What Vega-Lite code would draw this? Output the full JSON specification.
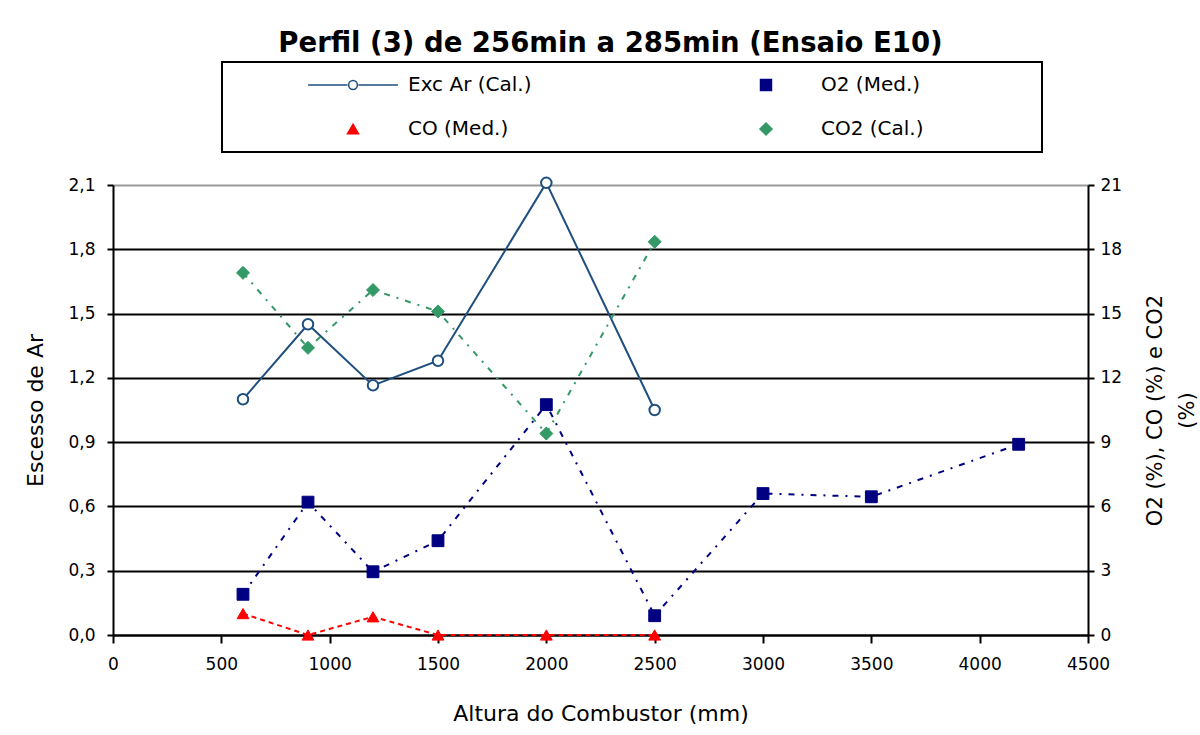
{
  "$schema": "https://vega.github.io/schema/vega-lite/v6.json",
  "width": 975,
  "height": 450,
  "autosize": {"type": "none"},
  "padding": {"left": 113, "top": 185, "right": 112, "bottom": 100},
  "background": "white",
  "title": {
    "text": "Perfil (3) de 256min a 285min (Ensaio E10)",
    "font": "DejaVu Sans",
    "fontSize": 27.5,
    "fontWeight": "bold",
    "color": "black",
    "anchor": "middle",
    "frame": "group",
    "offset": 4,
    "dx": 10
  },
  "config": {
    "view": {"stroke": null},
    "axis": {
      "labelFont": "DejaVu Sans",
      "titleFont": "DejaVu Sans",
      "labelFontSize": 17,
      "titleFontSize": 22,
      "titleFontWeight": "normal",
      "labelColor": "black",
      "titleColor": "black",
      "domainColor": "black",
      "tickColor": "black",
      "domainWidth": 2,
      "tickWidth": 2
    },
    "legend": {
      "labelFont": "DejaVu Sans",
      "labelFontSize": 20,
      "labelColor": "black",
      "strokeWidth": 2
    }
  },
  "datasets": {
    "excar": [
      {"x": 600, "series": "Exc Ar (Cal.)", "v": 1.10},
      {"x": 900, "series": "Exc Ar (Cal.)", "v": 1.45},
      {"x": 1200, "series": "Exc Ar (Cal.)", "v": 1.165},
      {"x": 1500, "series": "Exc Ar (Cal.)", "v": 1.28},
      {"x": 2000, "series": "Exc Ar (Cal.)", "v": 2.11},
      {"x": 2500, "series": "Exc Ar (Cal.)", "v": 1.05}
    ],
    "gases": [
      {"x": 600, "series": "O2 (Med.)", "v": 1.9},
      {"x": 900, "series": "O2 (Med.)", "v": 6.2},
      {"x": 1200, "series": "O2 (Med.)", "v": 2.95},
      {"x": 1500, "series": "O2 (Med.)", "v": 4.4},
      {"x": 2000, "series": "O2 (Med.)", "v": 10.75},
      {"x": 2500, "series": "O2 (Med.)", "v": 0.9},
      {"x": 3000, "series": "O2 (Med.)", "v": 6.6},
      {"x": 3500, "series": "O2 (Med.)", "v": 6.45},
      {"x": 4180, "series": "O2 (Med.)", "v": 8.9},
      {"x": 600, "series": "CO (Med.)", "v": 1.0},
      {"x": 900, "series": "CO (Med.)", "v": 0.0},
      {"x": 1200, "series": "CO (Med.)", "v": 0.85},
      {"x": 1500, "series": "CO (Med.)", "v": 0.0},
      {"x": 2000, "series": "CO (Med.)", "v": 0.0},
      {"x": 2500, "series": "CO (Med.)", "v": 0.0},
      {"x": 600, "series": "CO2 (Cal.)", "v": 16.9},
      {"x": 900, "series": "CO2 (Cal.)", "v": 13.4},
      {"x": 1200, "series": "CO2 (Cal.)", "v": 16.1},
      {"x": 1500, "series": "CO2 (Cal.)", "v": 15.1},
      {"x": 2000, "series": "CO2 (Cal.)", "v": 9.4},
      {"x": 2500, "series": "CO2 (Cal.)", "v": 18.35}
    ]
  },
  "layer": [
    {
      "data": {"name": "excar"},
      "encoding": {
        "x": {
          "field": "x",
          "type": "quantitative",
          "scale": {"domain": [0, 4500], "nice": false},
          "axis": {
            "values": [0, 500, 1000, 1500, 2000, 2500, 3000, 3500, 4000, 4500],
            "format": "d",
            "grid": false,
            "labelFlush": false,
            "title": "Altura do Combustor (mm)",
            "tickSize": 8,
            "labelPadding": 13,
            "titlePadding": 31
          }
        },
        "y": {
          "field": "v",
          "type": "quantitative",
          "scale": {"domain": [0, 2.1], "nice": false},
          "axis": {
            "orient": "left",
            "values": [0, 0.3, 0.6, 0.9, 1.2, 1.5, 1.8, 2.1],
            "labelExpr": "replace(format(datum.value, '.1f'), '.', ',')",
            "grid": true,
            "gridColor": {"condition": {"test": "datum.value > 2.05", "value": "#9a9a9a"}, "value": "black"},
            "gridWidth": 2,
            "title": "Escesso de Ar",
            "tickSize": 6,
            "labelPadding": 12,
            "titlePadding": 20
          }
        }
      },
      "layer": [
        {"mark": {"type": "line", "color": "#1f4f7f", "strokeWidth": 2}},
        {"mark": {"type": "point", "shape": "circle", "filled": true, "fill": "white", "stroke": "#1f4f7f", "strokeWidth": 2, "size": 110, "opacity": 1}}
      ]
    },
    {
      "data": {"name": "gases"},
      "encoding": {
        "x": {"field": "x", "type": "quantitative"},
        "y": {
          "field": "v",
          "type": "quantitative",
          "scale": {"domain": [0, 21], "nice": false},
          "axis": {
            "orient": "right",
            "values": [0, 3, 6, 9, 12, 15, 18, 21],
            "grid": false,
            "title": ["O2 (%), CO (%) e CO2", "(%)"],
            "titleAngle": 270,
            "titleFontSize": 21,
            "titleLineHeight": 32,
            "tickSize": 6,
            "labelPadding": 6,
            "titlePadding": 12
          }
        }
      },
      "layer": [
        {
          "mark": {"type": "line", "strokeWidth": 2},
          "encoding": {
            "color": {
              "field": "series",
              "type": "nominal",
              "scale": {"domain": ["O2 (Med.)", "CO (Med.)", "CO2 (Cal.)"], "range": ["#000080", "#ff0000", "#339966"]},
              "legend": null
            },
            "strokeDash": {
              "field": "series",
              "type": "nominal",
              "scale": {"domain": ["O2 (Med.)", "CO (Med.)", "CO2 (Cal.)"], "range": [[6, 7, 2, 7], [5, 4], [6, 7, 2, 7]]},
              "legend": null
            }
          }
        },
        {
          "mark": {"type": "point", "filled": true, "size": 140, "strokeWidth": 1, "opacity": 1},
          "encoding": {
            "shape": {
              "field": "series",
              "type": "nominal",
              "scale": {
                "domain": ["Exc Ar (Cal.)", "CO (Med.)", "O2 (Med.)", "CO2 (Cal.)"],
                "range": [
                  "M-8.2,0L-1,0M1,0L8.2,0M-0.8,0A0.8,0.8,0,1,0,0.8,0A0.8,0.8,0,1,0,-0.8,0Z",
                  "triangle-up",
                  "M-1,-1H1V1H-1ZM47.3,0",
                  "M0,-1.1L1.1,0L0,1.1L-1.1,0ZM47.3,0"
                ]
              },
              "legend": {
                "title": null,
                "orient": "none",
                "legendX": 109,
                "legendY": -123,
                "columns": 2,
                "padding": 13,
                "strokeColor": "black",
                "fillColor": "white",
                "symbolSize": 120,
                "symbolStrokeWidth": 1.5,
                "symbolOffset": 108,
                "labelOffset": 45,
                "rowPadding": 24,
                "columnPadding": 116
              }
            },
            "stroke": {
              "field": "series",
              "type": "nominal",
              "scale": {
                "domain": ["Exc Ar (Cal.)", "CO (Med.)", "O2 (Med.)", "CO2 (Cal.)"],
                "range": ["#1f4f7f", "#ff0000", "#000080", "#339966"]
              },
              "legend": {
                "title": null,
                "orient": "none",
                "legendX": 109,
                "legendY": -123,
                "columns": 2,
                "padding": 13,
                "strokeColor": "black",
                "fillColor": "white",
                "symbolSize": 120,
                "symbolStrokeWidth": 1.5,
                "symbolOffset": 108,
                "labelOffset": 45,
                "rowPadding": 24,
                "columnPadding": 116
              }
            },
            "fill": {
              "field": "series",
              "type": "nominal",
              "scale": {
                "domain": ["Exc Ar (Cal.)", "CO (Med.)", "O2 (Med.)", "CO2 (Cal.)"],
                "range": ["white", "#ff0000", "#000080", "#339966"]
              },
              "legend": {
                "title": null,
                "orient": "none",
                "legendX": 109,
                "legendY": -123,
                "columns": 2,
                "padding": 13,
                "strokeColor": "black",
                "fillColor": "white",
                "symbolSize": 120,
                "symbolStrokeWidth": 1.5,
                "symbolOffset": 108,
                "labelOffset": 45,
                "rowPadding": 24,
                "columnPadding": 116
              }
            }
          }
        }
      ]
    }
  ],
  "resolve": {"scale": {"y": "independent"}}
}
